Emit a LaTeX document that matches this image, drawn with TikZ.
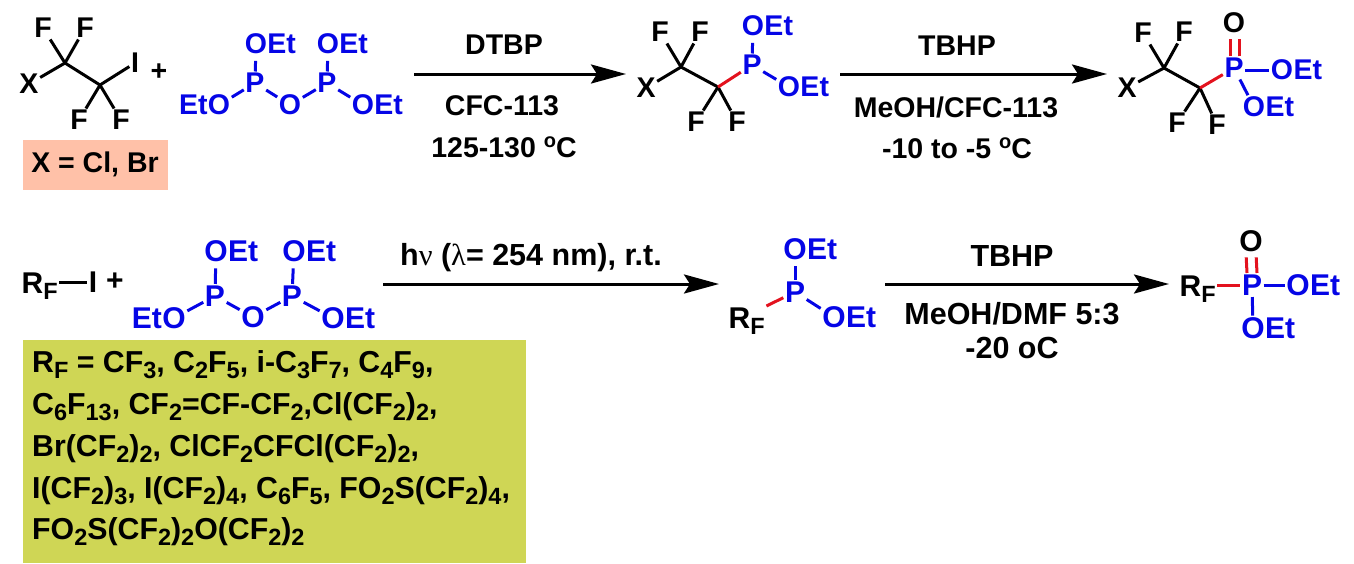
\documentclass[tikz,border=0pt]{standalone}
\usepackage{fontspec}
\setmainfont{Liberation Sans}
\newfontfamily\greekfont{Liberation Serif}
\usetikzlibrary{arrows.meta}
\definecolor{atomblue}{HTML}{0505E6}
\definecolor{bondred}{HTML}{E3121E}
\definecolor{saltbox}{HTML}{FFC1A8}
\definecolor{rfbox}{HTML}{CFD655}
\newcommand{\asz}{28.5}
\newcommand{\sbs}[1]{\raisebox{-6pt}{\fontsize{23.5}{24}\selectfont #1}}
\newcommand{\sps}[1]{\raisebox{10pt}{\fontsize{20}{20}\selectfont #1}}
\tikzset{
	atom/.style={inner sep=1.5pt,font=\fontsize{\asz}{\asz}\selectfont\bfseries},
	patom/.style={atom,text=atomblue},
	ettext/.style={inner sep=0pt,text=atomblue,font=\fontsize{\asz}{\asz}\selectfont\bfseries},
	reagent/.style={inner sep=0pt,font=\fontsize{28.5}{29}\selectfont\bfseries},
	wreagent/.style={inner sep=0pt,font=\fontsize{30.5}{31}\selectfont\bfseries},
	bond/.style={line width=3pt},
	pbond/.style={bond,draw=atomblue},
	upbond/.style={pbond,shorten >=5pt},
	rbond/.style={bond,draw=bondred},
	dblbond/.style={rbond,shorten >=4pt},
	rxn/.style={line width=3pt,-{Stealth[length=35pt,width=19pt,inset=6pt]}},
	boxline/.style={inner sep=0pt,anchor=west,font=\fontsize{30.3}{31}\selectfont\bfseries}
}
\newcommand{\oet}[3]{\node[patom] (#1) at (#2,#3) {O};
	\node[ettext,anchor=base west] (#1e) at ([xshift=-1.5pt]#1.base east) {Et};}
\newcommand{\eto}[3]{\node[patom] (#1) at (#2,#3) {O};
	\node[ettext,anchor=base east] (#1e) at ([xshift=1.5pt]#1.base west) {Et};}
\begin{document}
\begin{tikzpicture}[x=1pt,y=-1pt]
	\useasboundingbox (0,0) rectangle (1354,563);

	% boxes under the halides
	\fill[saltbox] (23,140) rectangle (168,190);
	\fill[rfbox] (23,340) rectangle (526,563);
	\node[reagent] (xlabel) at (95,164) {X = Cl, Br};

	% halide
	\node[atom] (x1) at (29,84) {X};
	\node[atom] (f1) at (43,28) {F};
	\node[atom] (f2) at (85,28) {F};
	\node[atom] (f3) at (79,120) {F};
	\node[atom] (f4) at (121,120) {F};
	\node[atom] (i1) at (135,63) {I};
	\coordinate (c1) at (65,63);
	\coordinate (c2) at (100,85);
	\draw[bond,line cap=round] (c1) -- (c2);
	\draw[bond] (c1) -- (x1);
	\draw[bond] (c1) -- (f1);
	\draw[bond] (c1) -- (f2);
	\draw[bond] (c2) -- (f3);
	\draw[bond] (c2) -- (f4);
	\draw[bond] (c2) -- (i1);
	\node[atom] (plus1) at (159,72) {+};

	% pyrophosphite, top
	\node[patom] (p1) at (255,83) {P};
	\node[patom] (p2) at (327,83) {P};
	\node[patom] (ob) at (290,105) {O};
	\oet{oa}{256}{44}
	\oet{oc}{328}{44}
	\eto{od}{219}{105}
	\oet{oe}{363}{105}
	\draw[upbond] (p1) -- (oa);
	\draw[upbond] (p2) -- (oc);
	\draw[pbond] (p1) -- (od);
	\draw[pbond] (p1) -- (ob);
	\draw[pbond] (p2) -- (ob);
	\draw[pbond] (p2) -- (oe);

	% first arrow
	\coordinate (a1s) at (414,74);
	\coordinate (a1e) at (626,74);
	\draw[rxn] (a1s) -- (a1e);
	\node[reagent] (dtbp) at (504,45) {DTBP};
	\node[reagent] (cfc) at (502,106) {CFC-113};
	\node[reagent] (temp1) at (504,147) {125-130 \sps{o}C};

	% phosphonite, top
	\node[atom] (x2) at (646,88) {X};
	\node[atom] (f5) at (660,32) {F};
	\node[atom] (f6) at (700,32) {F};
	\node[atom] (f7) at (696,122) {F};
	\node[atom] (f8) at (737,122) {F};
	\coordinate (c3) at (681,67);
	\coordinate (c4) at (718,87);
	\node[patom] (p3) at (752,65) {P};
	\oet{of}{753}{26}
	\oet{og}{789}{87}
	\draw[bond,line cap=round] (c3) -- (c4);
	\draw[bond] (c3) -- (x2);
	\draw[bond] (c3) -- (f5);
	\draw[bond] (c3) -- (f6);
	\draw[bond] (c4) -- (f7);
	\draw[bond] (c4) -- (f8);
	\draw[rbond] (c4) -- (p3);
	\draw[upbond] (p3) -- (of);
	\draw[pbond] (p3) -- (og);

	% second arrow
	\coordinate (a2s) at (840,74);
	\coordinate (a2e) at (1107,74);
	\draw[rxn] (a2s) -- (a2e);
	\node[reagent] (tbhp1) at (957,46) {TBHP};
	\node[reagent] (meoh1) at (956,107) {MeOH/CFC-113};
	\node[reagent] (temp2) at (957,148) {-10 to -5 \sps{o}C};

	% phosphonate, top
	\node[atom] (x3) at (1127,88) {X};
	\node[atom] (f9) at (1143,33) {F};
	\node[atom] (f10) at (1184,32) {F};
	\node[atom] (f11) at (1177,123) {F};
	\node[atom] (f12) at (1217,125) {F};
	\coordinate (c5) at (1164,68);
	\coordinate (c6) at (1200,88);
	\node[patom] (p4) at (1234,68) {P};
	\node[atom] (o1) at (1234,23) {O};
	\oet{oh}{1282}{70}
	\oet{oi}{1254}{107}
	\draw[bond,line cap=round] (c5) -- (c6);
	\draw[bond] (c5) -- (x3);
	\draw[bond] (c5) -- (f9);
	\draw[bond] (c5) -- (f10);
	\draw[bond] (c6) -- (f11);
	\draw[bond] (c6) -- (f12);
	\draw[rbond] (c6) -- (p4);
	\draw[dblbond] ([xshift=-4pt]p4.north) -- ([xshift=-4pt]o1.south);
	\draw[dblbond] ([xshift=5pt]p4.north) -- ([xshift=5pt]o1.south);
	\draw[pbond] (p4.east |- oh) -- (oh);
	\draw[pbond] (p4) -- (oi);

	% second row, halide
	\renewcommand{\asz}{30}
	\node[atom,anchor=west] (rf1) at (20,286) {R\sbs{F}};
	\node[atom] (i2) at (93,282) {I};
	\node[atom] (plus2) at (115,282) {+};
	\draw[bond] (rf1.east |- i2) -- (i2);

	% pyrophosphite, bottom
	\node[patom] (p5) at (215,296) {P};
	\node[patom] (p6) at (292,296) {P};
	\node[patom] (oj) at (253,317) {O};
	\oet{ok}{216}{251}
	\oet{ol}{294}{251}
	\eto{om}{174}{318}
	\oet{on}{333}{318}
	\draw[upbond] (p5) -- (ok);
	\draw[upbond] (p6) -- (ol);
	\draw[pbond] (p5) -- (om);
	\draw[pbond] (p5) -- (oj);
	\draw[pbond] (p6) -- (oj);
	\draw[pbond] (p6) -- (on);

	% third arrow
	\coordinate (a3s) at (383,284);
	\coordinate (a3e) at (719,284);
	\draw[rxn] (a3s) -- (a3e);
	\node[wreagent] (hv) at (531,258) {h{\greekfont\mdseries ν} ({\greekfont\mdseries λ}= 254 nm), r.t.};

	% phosphonite, bottom
	\node[patom] (p7) at (795,292) {P};
	\node[atom,anchor=west] (rf2) at (727,321) {R\sbs{F}};
	\oet{oo}{795}{249}
	\oet{op}{834}{317}
	\draw[rbond] (rf2.north east) -- (p7);
	\draw[upbond] (p7) -- (oo);
	\draw[pbond] (p7) -- (op);

	% fourth arrow
	\coordinate (a4s) at (885,284);
	\coordinate (a4e) at (1169,284);
	\draw[rxn] (a4s) -- (a4e);
	\node[wreagent] (tbhp2) at (1012,256) {TBHP};
	\node[wreagent] (meoh2) at (1012,314) {MeOH/DMF 5:3};
	\node[wreagent] (temp3) at (1012,348) {-20 oC};

	% phosphonate, bottom
	\node[patom] (p8) at (1252,285) {P};
	\node[atom] (o2) at (1251,241) {O};
	\node[atom,anchor=west] (rf3) at (1178,289) {R\sbs{F}};
	\oet{oq}{1298}{285}
	\oet{or}{1253}{328}
	\draw[rbond] (rf3.east |- p8) -- (p8);
	\draw[dblbond] ([xshift=-5pt]p8.north) -- ([xshift=-5pt]o2.south);
	\draw[dblbond] ([xshift=5pt]p8.north) -- ([xshift=5pt]o2.south);
	\draw[pbond] (p8) -- (oq);
	\draw[pbond] (p8) -- (or);

	% R_F list
	\node[boxline] (rf4) at (32,365) {R\sbs{F} = CF\sbs{3}, C\sbs{2}F\sbs{5}, i-C\sbs{3}F\sbs{7}, C\sbs{4}F\sbs{9},};
	\node[boxline] (rf5) at (32,407) {C\sbs{6}F\sbs{13}, CF\sbs{2}=CF-CF\sbs{2},Cl(CF\sbs{2})\sbs{2},};
	\node[boxline] (rf6) at (32,449) {Br(CF\sbs{2})\sbs{2}, ClCF\sbs{2}CFCl(CF\sbs{2})\sbs{2},};
	\node[boxline] (rf7) at (32,491) {I(CF\sbs{2})\sbs{3}, I(CF\sbs{2})\sbs{4}, C\sbs{6}F\sbs{5}, FO\sbs{2}S(CF\sbs{2})\sbs{4},};
	\node[boxline] (rf8) at (32,532) {FO\sbs{2}S(CF\sbs{2})\sbs{2}O(CF\sbs{2})\sbs{2}};
\end{tikzpicture}
\end{document}
